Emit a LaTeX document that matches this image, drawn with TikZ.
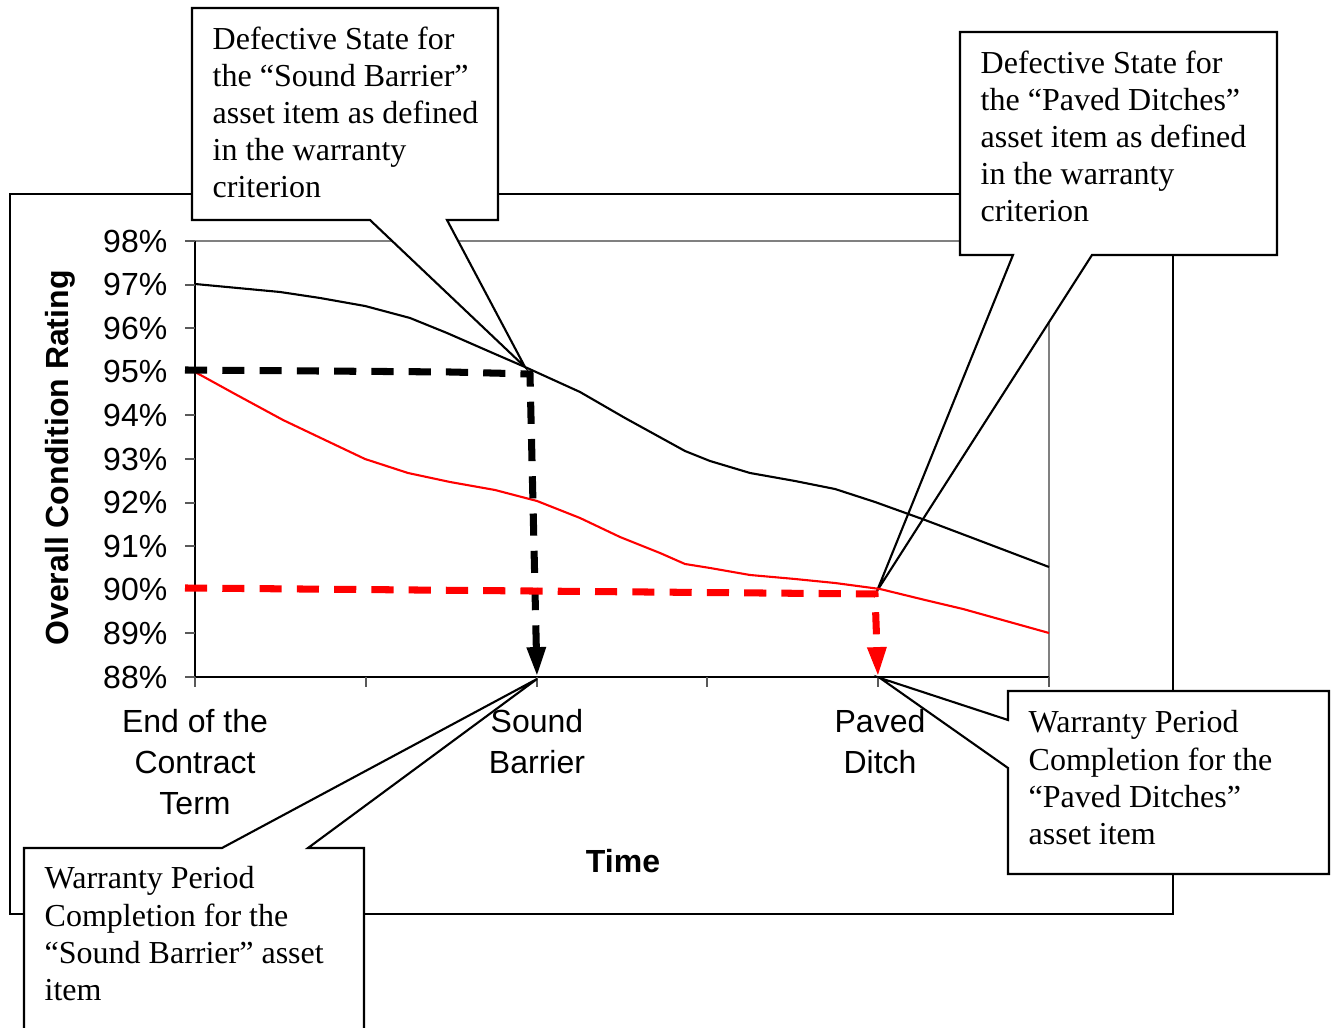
\documentclass[tikz,border=0pt]{standalone}
\usepackage{fontspec}
\setmainfont{Liberation Serif}
\setsansfont{Liberation Sans}
\usetikzlibrary{arrows.meta}

\begin{document}
\begin{tikzpicture}[
    x=0.01cm, y=-0.01cm,
    note/.style={anchor=north west, inner sep=0pt, align=left, font=\fontsize{9.1}{10.55}\selectfont},
    callout/.style={draw, fill=white, line width=0.6pt},
    axislabel/.style={inner sep=0pt, font=\sffamily\fontsize{9.1}{11.65}\selectfont},
    curve/.style={line width=0.6pt},
    guide/.style={line width=2pt, dash pattern=on 6.3pt off 4.3pt, -{Triangle[length=8.5pt,width=5pt]}},
    tickmark/.style={draw=black!65, line width=0.6pt}
]
    \useasboundingbox (0,0) rectangle (1332,1028);

    \draw[line width=0.5pt] (10,194) rectangle (1173,914);
    \draw[draw=gray, line width=0.6pt] (195,241) -- (1049,241) -- (1049,677);
    \draw[line width=0.6pt] (195,241) -- (195,677) -- (1049,677);
    \foreach \v in {88,...,98}
        \draw[tickmark] (185,{241+(98-\v)*43.6}) -- (195,{241+(98-\v)*43.6});
    \foreach \i in {0,...,5}
        \draw[tickmark] ({195+\i*170.8},677) -- ({195+\i*170.8},687);

    \coordinate (sbdef) at (525,367);
    \coordinate (pddef) at (877,591);
    \coordinate (sbend) at (537,679);
    \coordinate (pdend) at (880,678);

    \draw[callout] (192,8) -- (498,8) -- (498,220) -- (447,220) -- (sbdef) -- (370,220) -- (192,220) -- cycle;
    \draw[callout] (960,32) -- (1277,32) -- (1277,255) -- (1092,255) -- (pddef) -- (1013,255) -- (960,255) -- cycle;
    \draw[callout] (24,1040) -- (24,848) -- (222,848) -- (sbend) -- (308,848) -- (364,848) -- (364,1040) -- cycle;
    \draw[callout] (1008,691) -- (1329,691) -- (1329,874) -- (1008,874) -- (1008,768) -- (pdend) -- (1008,720) -- cycle;

    \draw[curve] (195,284) -- (280,292) -- (320,298) -- (365,306) -- (410,318) -- (447,333) -- (495,354)
        -- (sbdef) -- (580,392) -- (625,418) -- (665,440) -- (685,451) -- (710,461) -- (750,473)
        -- (795,481) -- (835,489) -- (875,502) -- (925,520) -- (970,537) -- (1049,567);
    \draw[curve, red] (195,372) -- (235,394) -- (283,420) -- (325,440) -- (365,459) -- (408,473)
        -- (450,482) -- (495,490) -- (537,501) -- (580,518) -- (620,537) -- (660,553) -- (685,564)
        -- (710,568) -- (750,575) -- (795,579) -- (835,583) -- (880,589) -- (925,600) -- (963,609) -- (1049,633);

    \draw[guide] (185,370) -- (450,372) -- (530,374) -- (537,677);
    \draw[guide, red] (185,588) -- (875,594) -- (878,677);

    \foreach \v in {88,...,98}
        \node[axislabel, anchor=east] (y\v) at (168,{241+(98-\v)*43.6}) {\v\%};
    \node[axislabel, anchor=north, align=center] (xstart) at (195,709) {End of the\\Contract\\Term};
    \node[axislabel, anchor=north, align=center] (xsound) at (537,709) {Sound\\Barrier};
    \node[axislabel, anchor=north, align=center] (xpaved) at (880,709) {Paved\\Ditch};
    \node[axislabel, font=\sffamily\bfseries\fontsize{9.1}{11.65}\selectfont, rotate=90] (ylabel) at (60,458) {Overall Condition Rating};
    \node[axislabel, font=\sffamily\bfseries\fontsize{9.1}{11.65}\selectfont] (xlabel) at (623,861) {Time};

    \node[note] (sbnote) at (212,26) {Defective State for\\the “Sound Barrier”\\asset item as defined\\in the warranty\\criterion};
    \node[note] (pdnote) at (980,50) {Defective State for\\the “Paved Ditches”\\asset item as defined\\in the warranty\\criterion};
    \node[note] (sbdone) at (44,866) {Warranty Period\\Completion for the\\“Sound Barrier” asset\\item};
    \node[note] (pddone) at (1028,710) {Warranty Period\\Completion for the\\“Paved Ditches”\\asset item};
\end{tikzpicture}
\end{document}
